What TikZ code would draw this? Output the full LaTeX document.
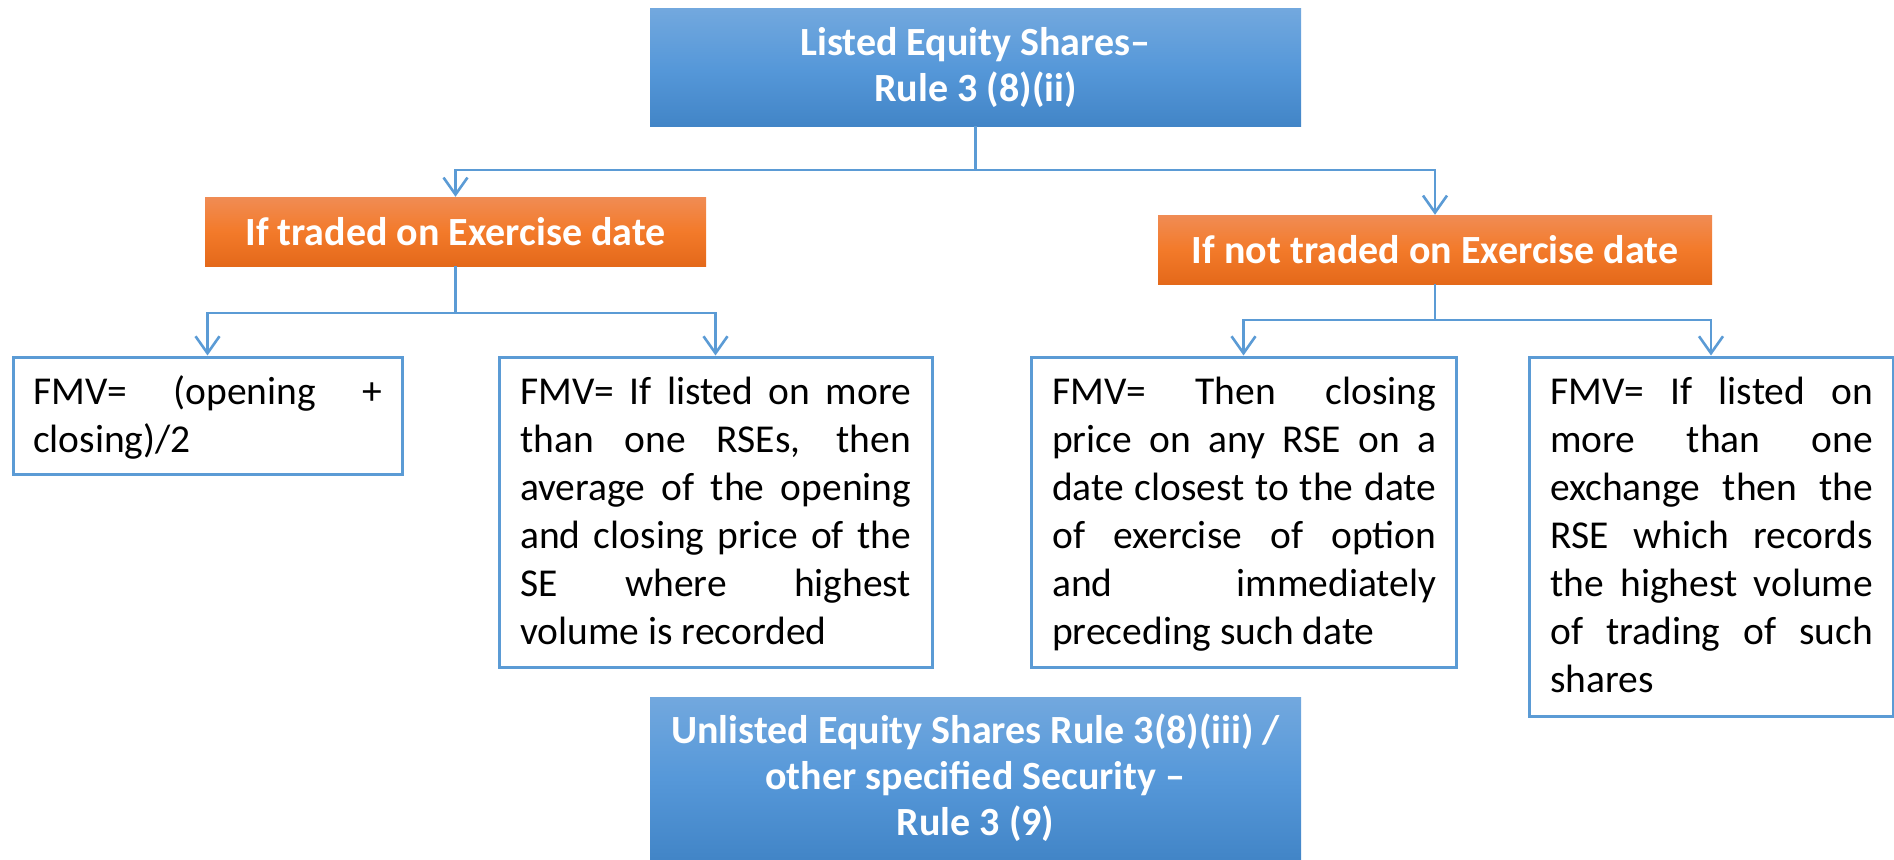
\documentclass[tikz,border=0pt]{standalone}
\usepackage{fontspec}
\setmainfont{Carlito}
\usetikzlibrary{arrows.meta}
\definecolor{linkblue}{RGB}{91,155,213}
\definecolor{hdrtop}{RGB}{114,168,222}
\definecolor{hdrmid}{RGB}{86,152,217}
\definecolor{hdrbot}{RGB}{66,133,199}
\definecolor{ortop}{RGB}{240,140,84}
\definecolor{ormid}{RGB}{243,122,42}
\definecolor{orbot}{RGB}{228,105,26}
\tolerance=10000
\hbadness=10000
\hyphenpenalty=10000
\exhyphenpenalty=10000
\begin{document}
\begin{tikzpicture}[x=1pt,y=-1pt,
  hdr/.style={draw=none, top color=hdrtop, bottom color=hdrbot, middle color=hdrmid,
    text=white, font=\fontsize{40}{46}\selectfont\bfseries, align=center, inner sep=0pt},
  cond/.style={draw=none, top color=ortop, bottom color=orbot, middle color=ormid,
    text=white, font=\fontsize{40}{46}\selectfont\bfseries, inner sep=0pt},
  fmvbox/.style={draw=linkblue, line width=3pt, fill=white, inner sep=0pt},
  fmvtext/.style={anchor=base west, inner sep=0pt, font=\fontsize{39.5}{48}\selectfont},
  conn/.style={draw=linkblue, line width=2.6pt},
  arr/.style={conn, -{Straight Barb[length=17pt,width=24pt,line width=2.6pt]}},
]
\useasboundingbox (0,0) rectangle (1894,859);

% headings
\node[hdr, minimum width=651pt, minimum height=117pt] (rule8) at (975.5,67.5)
  {Listed Equity Shares–\\Rule 3 (8)(ii)};
\node[cond, minimum width=501pt, minimum height=69pt] (traded) at (455.5,231.5)
  {If traded on Exercise date};
\node[cond, minimum width=554pt, minimum height=69pt] (nottraded) at (1435,249.5)
  {If not traded on Exercise date};

% valuation boxes
\node[fmvbox, minimum width=389pt, minimum height=117pt] (avg) at (207.5,415.5) {};
\node[fmvtext] (avgtxt) at (33,404)
  {\parbox[t]{349pt}{FMV= (opening +\linebreak closing)/2}};

\node[fmvbox, minimum width=433pt, minimum height=310pt] (multi) at (715.5,512) {};
\node[fmvtext] (multitxt) at (520,404)
  {\parbox[t]{391pt}{FMV= If listed on more\linebreak than one RSEs, then\linebreak
   average of the opening\linebreak and closing price of the\linebreak
   SE where highest\linebreak volume is recorded}};

\node[fmvbox, minimum width=425pt, minimum height=310pt] (closest) at (1243.5,512) {};
\node[fmvtext] (closesttxt) at (1052,404)
  {\parbox[t]{384pt}{FMV= Then closing\linebreak price on any RSE on a\linebreak
   date closest to the date\linebreak of exercise of option\linebreak
   and immediately\linebreak preceding such date}};

\node[fmvbox, minimum width=364pt, minimum height=359pt] (volume) at (1711,536.5) {};
\node[fmvtext] (volumetxt) at (1550,404)
  {\parbox[t]{323pt}{FMV= If listed on\linebreak more than one\linebreak
   exchange then the\linebreak RSE which records\linebreak
   the highest volume\linebreak of trading of such\linebreak shares}};

% unlisted heading
\node[hdr, minimum width=651pt, minimum height=162pt] (unlisted) at (975.5,778)
  {Unlisted Equity Shares Rule 3(8)(iii) /\\other specified Security –\\Rule 3 (9)};

% connectors
\coordinate (split1) at (975.5,170);
\draw[conn] (rule8.south) -- (split1);
\draw[arr] (split1) -| (traded.north);
\draw[arr] (split1) -| (nottraded.north);

\coordinate (split2) at (455.5,313);
\draw[conn] (traded.south) -- (split2);
\draw[arr] (split2) -| (avg.north);
\draw[arr] (split2) -| (multi.north);

\coordinate (split3) at (1435,320);
\draw[conn] (nottraded.south) -- (split3);
\draw[arr] (split3) -| (closest.north);
\draw[arr] (split3) -| (volume.north);
\end{tikzpicture}
\end{document}
